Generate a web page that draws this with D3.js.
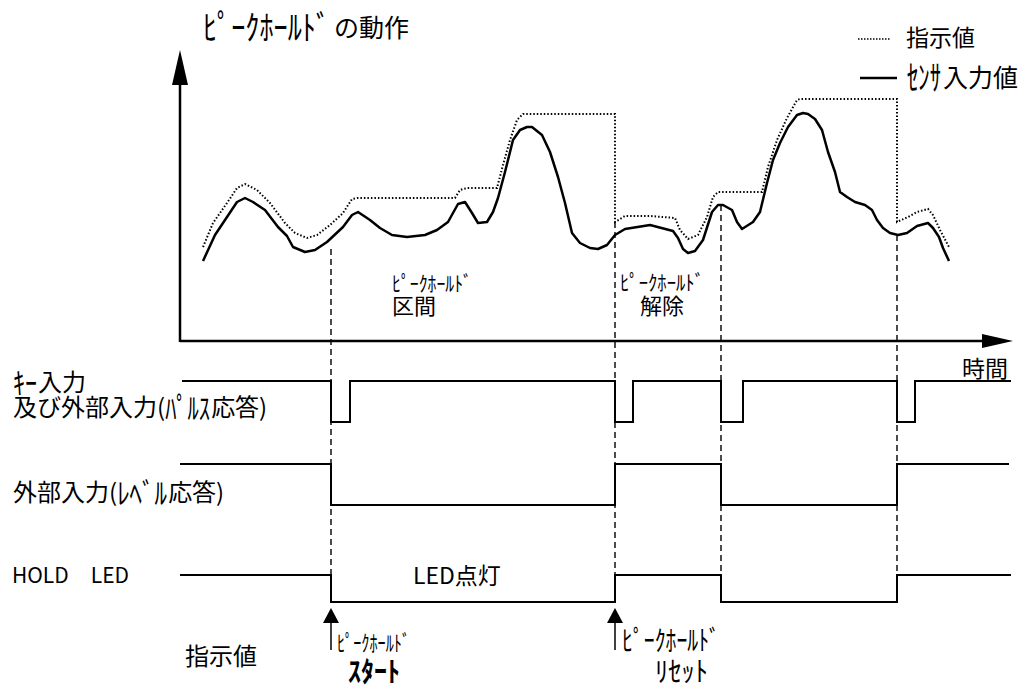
<!DOCTYPE html>
<html>
<head>
<meta charset="utf-8">
<script src="https://cdn.jsdelivr.net/npm/d3@7"></script>
<style>
  body { margin: 0; background: #fff; }
  text { font-family: "Noto Sans CJK JP", "Noto Sans", sans-serif; fill: #000; }
</style>
</head>
<body>
<svg id="chart"></svg>
<script>
// time (arbitrary units) and value readings
const sensor = [
  [23,80],[35,106],[45,121],[57,139],[65,143],[73,139],[85,131],[98,114],[107,105],[113,94],
  [125,89],[135,91],[147,99],[163,114],[172,126],[178,129],[190,121],[200,113],[212,106],[227,104],
  [245,106],[257,111],[268,119],[278,137],[285,139],[292,128],[298,118],[307,119],[313,129],[318,143],
  [325,169],[333,201],[340,211],[347,214],[352,214],[362,206],[370,189],[378,164],[385,138],[392,108],
  [400,98],[410,93],[418,92],[427,96],[435,106],[445,112],[470,116],[493,110],[498,103],[503,92],
  [508,88],[515,90],[523,101],[532,129],[538,136],[543,136],[552,131],[557,119],[562,112],[573,119],
  [580,129],[587,158],[593,181],[600,198],[608,214],[617,226],[623,228],[628,227],[635,222],[642,211],
  [648,189],[655,169],[660,149],[667,144],[675,139],[685,136],[692,131],[697,121],[703,113],[710,108],
  [718,106],[727,108],[737,115],[748,118],[753,113],[759,104],[763,93],[769,80]
];
const indicator = [
  [23,94],[33,118],[47,138],[57,153],[65,157],[77,151],[90,138],[105,118],[115,108],[127,103],
  [137,106],[150,116],[163,128],[172,142],[177,143],[275,143],[280,151],[287,153],[317,153],[323,176],
  [330,201],[337,221],[343,227],[435,227],[435,119],[445,125],[470,125],[495,123],[500,111],[508,102],
  [518,106],[527,124],[533,144],[538,149],[582,149],[588,174],[597,201],[607,223],[617,241],[620,242],
  [717,242],[717,119],[728,124],[737,129],[748,132],[753,126],[760,111],[769,94]
];
// events: hold start, reset, start, reset
const events = [151, 435, 541, 717];
const eventTop = [92, 119, 136, 106];

const pulseInput = [[2,1],[151,0],[170,1],[435,0],[453,1],[541,0],[563,1],[717,0],[735,1],[831,1]];
const levelInput = [[0,1],[151,0],[435,1],[541,0],[717,1],[829,1]];
const holdLed = [[0,1],[151,0],[435,1],[541,0],[717,1],[831,1]];

const svg = d3.select('#chart').attr('width', 1026).attr('height', 687);

const x = d3.scaleLinear().domain([0, 840]).range([180, 1020]);
const y = d3.scaleLinear().domain([0, 300]).range([341, 41]);

const rows = [
  { data: pulseInput, y: d3.scaleLinear().domain([0, 1]).range([422, 381]) },
  { data: levelInput, y: d3.scaleLinear().domain([0, 1]).range([505, 464]) },
  { data: holdLed, y: d3.scaleLinear().domain([0, 1]).range([602, 575]) }
];

// dashed event lines
svg.append('g')
  .selectAll('line')
  .data(events)
  .enter().append('line')
  .attr('x1', d => x(d)).attr('x2', d => x(d))
  .attr('y1', (d, i) => y(eventTop[i]))
  .attr('y2', rows[2].y(1))
  .attr('stroke', '#000')
  .attr('stroke-width', 1.4)
  .attr('stroke-dasharray', '6,4');

// axes with arrows
const axis = svg.append('g').attr('stroke', '#000').attr('fill', 'none');
axis.append('line')
  .attr('x1', x(0)).attr('x2', x(0))
  .attr('y1', y(0) + 1).attr('y2', y(257))
  .attr('stroke-width', 2.5);
axis.append('line')
  .attr('x1', x(0)).attr('x2', x(805))
  .attr('y1', y(0)).attr('y2', y(0))
  .attr('stroke-width', 2.5);
svg.append('path')
  .attr('d', `M${x(0)},${y(291)} L${x(0) - 8},${y(256)} L${x(0) + 8},${y(256)} Z`);
svg.append('path')
  .attr('d', `M${x(833)},${y(0)} L${x(802)},${y(0) - 7} L${x(802)},${y(0) + 7} Z`);

// curves
const line = d3.line().x(d => x(d[0])).y(d => y(d[1]));
svg.append('path')
  .datum(indicator)
  .attr('d', line)
  .attr('fill', 'none')
  .attr('stroke', '#000')
  .attr('stroke-width', 2)
  .attr('stroke-dasharray', '1.5,2');
svg.append('path')
  .datum(sensor)
  .attr('d', line)
  .attr('fill', 'none')
  .attr('stroke', '#000')
  .attr('stroke-width', 2.5)
  .attr('stroke-linejoin', 'round');

// step signals
rows.forEach(r => {
  svg.append('path')
    .datum(r.data)
    .attr('d', d3.line().x(d => x(d[0])).y(d => r.y(d[1])).curve(d3.curveStepAfter))
    .attr('fill', 'none')
    .attr('stroke', '#000')
    .attr('stroke-width', 2);
});

// arrows under the LED row (start, reset)
[events[0], events[1]].forEach(t => {
  const cx = x(t), top = 608;
  svg.append('path')
    .attr('d', `M${cx},${top} L${cx - 8},${top + 15} L${cx + 8},${top + 15} Z`);
  svg.append('line')
    .attr('x1', cx).attr('x2', cx)
    .attr('y1', top + 14).attr('y2', 650)
    .attr('stroke', '#000').attr('stroke-width', 1.5);
});

// legend
const legend = svg.append('g');
legend.append('line')
  .attr('x1', 858).attr('x2', 891).attr('y1', 39).attr('y2', 39)
  .attr('stroke', '#000').attr('stroke-width', 1.5).attr('stroke-dasharray', '1.5,1.5');
legend.append('line')
  .attr('x1', 860).attr('x2', 897).attr('y1', 78).attr('y2', 78)
  .attr('stroke', '#000').attr('stroke-width', 2.5);

// texts: each label is a run of segments; half-width kana get a fixed width
const labels = [
  { x: 203, y: 28, segs: [{ t: 'ﾋﾟｰｸﾎｰﾙﾄﾞ', s: 34, w: 127 }, { t: 'の動作', s: 25, g: 4 }] },
  { x: 906, y: 38, segs: [{ t: '指示値', s: 23 }] },
  { x: 907, y: 78, segs: [{ t: 'ｾﾝｻ', s: 34, w: 34 }, { t: '入力値', s: 25, g: 2 }] },
  { x: 392, y: 284, segs: [{ t: 'ﾋﾟｰｸﾎｰﾙﾄﾞ', s: 21, w: 80 }] },
  { x: 392, y: 306, segs: [{ t: '区間', s: 22 }] },
  { x: 620, y: 283, segs: [{ t: 'ﾋﾟｰｸﾎｰﾙﾄﾞ', s: 21, w: 84 }] },
  { x: 640, y: 306, segs: [{ t: '解除', s: 22 }] },
  { x: 962, y: 369, segs: [{ t: '時間', s: 23 }] },
  { x: 13, y: 383, segs: [{ t: 'ｷｰ', s: 30, w: 24 }, { t: '入力', s: 24, g: 1 }] },
  { x: 13, y: 408, segs: [{ t: '及び外部入力(', s: 24 }, { t: 'ﾊﾟﾙｽ', s: 30, w: 45 }, { t: '応答)', s: 24, g: 1 }] },
  { x: 13, y: 493, segs: [{ t: '外部入力(', s: 24 }, { t: 'ﾚﾍﾞﾙ', s: 30, w: 50 }, { t: '応答)', s: 24, g: 1 }] },
  { x: 12, y: 576, segs: [{ t: 'HOLD', s: 21 }, { t: 'LED', s: 21, g: 22 }] },
  { x: 413, y: 576, segs: [{ t: 'LED点灯', s: 23 }] },
  { x: 185, y: 657, segs: [{ t: '指示値', s: 24 }] },
  { x: 337, y: 643, segs: [{ t: 'ﾋﾟｰｸﾎｰﾙﾄﾞ', s: 22, w: 73 }] },
  { x: 348, y: 672, segs: [{ t: 'ｽﾀｰﾄ', s: 28, w: 52, b: true }] },
  { x: 622, y: 641, segs: [{ t: 'ﾋﾟｰｸﾎｰﾙﾄﾞ', s: 28, w: 98 }] },
  { x: 655, y: 672, segs: [{ t: 'ﾘｾｯﾄ', s: 28, w: 53 }] }
];
const textG = svg.append('g');
labels.forEach(l => {
  let cx = l.x;
  l.segs.forEach(sg => {
    cx += sg.g || 0;
    const t = textG.append('text')
      .attr('x', cx)
      .attr('y', l.y)
      .attr('dy', '0.35em')
      .attr('font-size', sg.s)
      .attr('font-weight', sg.b ? 'bold' : 'normal')
      .text(sg.t);
    if (sg.w) {
      t.attr('textLength', sg.w).attr('lengthAdjust', 'spacingAndGlyphs');
      cx += sg.w;
    } else {
      cx += t.node().getComputedTextLength();
    }
  });
});
</script>
</body>
</html>
